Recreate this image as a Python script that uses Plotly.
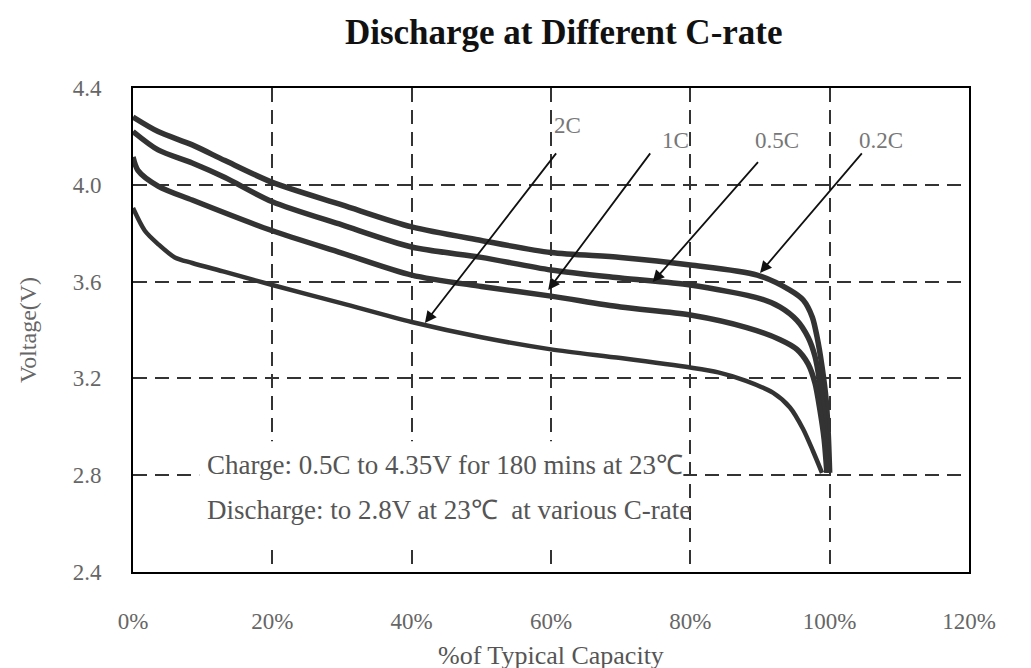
import plotly.graph_objects as go

# ---- data ----
cap_02c = [0, 3.6, 8.5, 13.2, 20, 30, 40, 50, 60, 70, 80, 89.6, 94.3, 96.2, 97.5, 98.2, 98.9, 99.5, 99.8, 100]
v_02c = [4.28, 4.22, 4.165, 4.10, 4.01, 3.917, 3.826, 3.77, 3.72, 3.70, 3.669, 3.627, 3.565, 3.524, 3.454, 3.37, 3.25, 3.11, 2.97, 2.81]

cap_05c = [0, 3.6, 8.5, 13.2, 20, 30, 40, 50, 60, 70, 80, 90, 92.9, 95.3, 96.9, 97.9, 98.6, 99.2, 99.6, 99.8]
v_05c = [4.22, 4.144, 4.09, 4.03, 3.93, 3.834, 3.743, 3.70, 3.648, 3.615, 3.586, 3.53, 3.495, 3.44, 3.37, 3.29, 3.18, 3.04, 2.90, 2.81]

cap_1c = [0, 0.7, 3.6, 8.5, 20, 30, 40, 50, 60, 70, 80, 88.1, 92.9, 95.3, 96.9, 97.9, 98.6, 99.2, 99.6]
v_1c = [4.115, 4.06, 3.995, 3.937, 3.81, 3.718, 3.627, 3.58, 3.54, 3.495, 3.462, 3.41, 3.36, 3.32, 3.26, 3.18, 3.07, 2.95, 2.81]

cap_2c = [0, 1.7, 3.6, 6.0, 8.5, 13.2, 20, 30, 40, 50, 60, 70, 80, 84, 88, 91.9, 94.3, 96.2, 97.6, 98.9]
v_2c = [3.904, 3.81, 3.755, 3.70, 3.677, 3.64, 3.586, 3.51, 3.433, 3.37, 3.32, 3.284, 3.245, 3.225, 3.19, 3.14, 3.08, 2.99, 2.90, 2.81]

x_ticks = [0, 20, 40, 60, 80, 100, 120]
x_tick_labels = ["0%", "20%", "40%", "60%", "80%", "100%", "120%"]
y_ticks = [2.4, 2.8, 3.2, 3.6, 4.0, 4.4]
y_tick_labels = ["2.4", "2.8", "3.2", "3.6", "4.0", "4.4"]

rate_labels = ["2C", "1C", "0.5C", "0.2C"]
label_x = [62.4, 77.8, 92.4, 107.4]
label_y = [4.243, 4.185, 4.185, 4.185]
arrow_tail_x = [60.9, 74.4, 89.9, 104.8]
arrow_tail_y = [4.136, 4.136, 4.10, 4.136]
arrow_head_x = [41.9, 59.6, 74.6, 90.0]
arrow_head_y = [3.429, 3.565, 3.598, 3.636]

note_lines = ["Charge: 0.5C to 4.35V for 180 mins at 23℃",
              "Discharge: to 2.8V at 23℃  at various C-rate"]
note_y = [2.842, 2.656]

SERIF = "Liberation Serif, Times New Roman, serif"
CURVE = "#333333"

fig = go.Figure()
for cx, cy, name, w in [(cap_02c, v_02c, "0.2C", 5.5), (cap_05c, v_05c, "0.5C", 5.5),
                        (cap_1c, v_1c, "1C", 5.5), (cap_2c, v_2c, "2C", 4.5)]:
    fig.add_trace(go.Scatter(x=cx, y=cy, mode="lines", name=name,
                             line=dict(color=CURVE, width=w, shape="spline", smoothing=0.8),
                             showlegend=False, hoverinfo="skip"))

# white box behind the note text (covers grid, under traces)
fig.add_shape(type="rect", xref="x", yref="y", x0=9.5, x1=79.0, y0=2.52, y1=2.94,
              fillcolor="white", line=dict(width=0), layer="between")

annotations = []
for i, t in enumerate(note_lines):
    annotations.append(dict(x=10.3, y=note_y[i], xref="x", yref="y", text=t, showarrow=False,
                            xanchor="left", yanchor="middle",
                            font=dict(family=SERIF, size=27, color="#555555")))
for i, lab in enumerate(rate_labels):
    annotations.append(dict(x=label_x[i], y=label_y[i], xref="x", yref="y", text=lab,
                            showarrow=False, xanchor="center", yanchor="middle",
                            font=dict(family=SERIF, size=23, color="#777777")))
    annotations.append(dict(x=arrow_head_x[i], y=arrow_head_y[i], ax=arrow_tail_x[i], ay=arrow_tail_y[i],
                            xref="x", yref="y", axref="x", ayref="y", text="",
                            showarrow=True, arrowhead=2, arrowsize=1.3, arrowwidth=1.8,
                            arrowcolor="#111111", standoff=0, startstandoff=0))
annotations.append(dict(x=0.5, y=-0.1715, xref="paper", yref="paper", text="%of Typical Capacity",
                        showarrow=False, xanchor="center", yanchor="middle",
                        font=dict(family=SERIF, size=26, color="#555555")))
annotations.append(dict(x=-0.1255, y=0.5, xref="paper", yref="paper", text="Voltage(V)",
                        showarrow=False, xanchor="center", yanchor="middle", textangle=-90,
                        font=dict(family=SERIF, size=24, color="#666666")))

# the page adds an 8px body margin, so margins are shifted by 8px
fig.update_layout(
    width=1031, height=668,
    margin=dict(l=125, r=70, t=80, b=104),
    paper_bgcolor="white", plot_bgcolor="white",
    title=dict(text="<b>Discharge at Different C-rate</b>", x=0.539, xanchor="center",
               y=0.964, yanchor="middle",
               font=dict(family=SERIF, size=35, color="#111111")),
    annotations=annotations,
)
fig.update_xaxes(range=[0, 120], tickvals=x_ticks, ticktext=x_tick_labels,
                 showline=True, mirror=True, linecolor="black", linewidth=2,
                 showgrid=True, gridcolor="#333333", gridwidth=1.5, griddash="14px,8px",
                 zeroline=False, ticks="", ticklabelstandoff=27,
                 tickfont=dict(family=SERIF, size=23, color="#666666"))
fig.update_yaxes(range=[2.4, 4.4], tickvals=y_ticks, ticktext=y_tick_labels,
                 showline=True, mirror=True, linecolor="black", linewidth=2,
                 showgrid=True, gridcolor="#333333", gridwidth=1.5, griddash="14px,8px",
                 zeroline=False, ticks="", ticklabelstandoff=25,
                 tickfont=dict(family=SERIF, size=23, color="#666666"))

fig.write_html("out.html")
